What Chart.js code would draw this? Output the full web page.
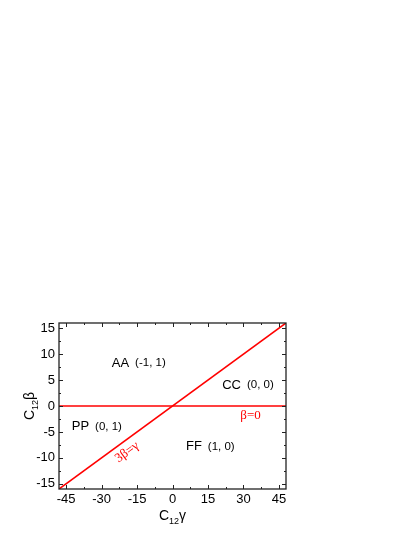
<!DOCTYPE html>
<html>
<head>
<meta charset="utf-8">
<script src="https://cdn.jsdelivr.net/npm/chart.js@4/dist/chart.umd.min.js"></script>
<style>
  html, body { margin: 0; padding: 0; background: #fff; }
  #wrap { width: 415px; height: 537px; position: relative; }
</style>
</head>
<body>
<div id="wrap"><canvas id="phaseChart"></canvas></div>
<script>
// axis ranges and ticks
const xRange = [-48, 48];
const yRange = [-16, 16];
const xTicks = [-45, -30, -15, 0, 15, 30, 45];
const yTicks = [-15, -10, -5, 0, 5, 10, 15];
const xMinor = [-37.5, -22.5, -7.5, 7.5, 22.5, 37.5];
const yMinor = [-12.5, -7.5, -2.5, 2.5, 7.5, 12.5];

// boundary lines: 3β=γ and β=0
const diagGamma = [-48, 48];
const diagBeta = [-16, 16];
const zeroGamma = [-48, 48];
const zeroBeta = [0, 0];

// region labels (left edge of text, in data coords)
const regionNames = ['AA', 'CC', 'PP', 'FF'];
const regionCodes = ['(-1, 1)', '(0, 0)', '(0, 1)', '(1, 0)'];
const regionGamma = [-25.7, 21, -42.6, 5.7];
const regionBeta = [8.3, 4.0, -4.0, -7.8];

// red line labels
const lineLabels = ['β=0', '3β=γ'];
const lineLabelGamma = [33, -19.2];
const lineLabelBeta = [-1.9, -8.9];

const RED = 'rgb(255,0,0)';
const SANS = '"Liberation Sans", Arial, Helvetica, sans-serif';
const SERIF = '"Liberation Serif", "Times New Roman", serif';

function toPoints(xs, ys) {
  return xs.map((x, i) => ({ x: x, y: ys[i] }));
}

// draws "C" + subscript "12" + greek letter, centered at (0,0)
function drawSubLabel(ctx, greek) {
  ctx.font = '14px ' + SANS;
  const wC = ctx.measureText('C').width;
  ctx.font = '9px ' + SANS;
  const w12 = ctx.measureText('12').width;
  ctx.font = '14px ' + SANS;
  const wG = ctx.measureText(greek).width;
  let x = -(wC + w12 + wG) / 2;
  ctx.textAlign = 'left';
  ctx.textBaseline = 'alphabetic';
  ctx.fillText('C', x, 5);
  x += wC;
  ctx.font = '9px ' + SANS;
  ctx.fillText('12', x, 9);
  x += w12;
  ctx.font = '14px ' + SANS;
  ctx.fillText(greek, x, 5);
}

const framePlugin = {
  id: 'frame',
  afterDatasetsDraw(chart) {
    const ctx = chart.ctx;
    const a = chart.chartArea;
    const xs = chart.scales.x;
    const ys = chart.scales.y;
    ctx.save();

    // frame
    ctx.strokeStyle = '#222';
    ctx.lineWidth = 1.3;
    ctx.strokeRect(a.left, a.top, a.right - a.left, a.bottom - a.top);

    // inward ticks on all four sides
    ctx.lineWidth = 1;
    ctx.beginPath();
    const tick = (vals, len) => {
      vals.forEach(v => {
        const px = Math.round(xs.getPixelForValue(v)) + 0.5;
        ctx.moveTo(px, a.bottom); ctx.lineTo(px, a.bottom - len);
        ctx.moveTo(px, a.top); ctx.lineTo(px, a.top + len);
      });
    };
    const tickY = (vals, len) => {
      vals.forEach(v => {
        const py = Math.round(ys.getPixelForValue(v)) + 0.5;
        ctx.moveTo(a.left, py); ctx.lineTo(a.left + len, py);
        ctx.moveTo(a.right, py); ctx.lineTo(a.right - len, py);
      });
    };
    tick(xTicks, 4); tick(xMinor, 2);
    tickY(yTicks, 4); tickY(yMinor, 2);
    ctx.stroke();

    // region labels
    ctx.fillStyle = '#000';
    ctx.textBaseline = 'middle';
    ctx.textAlign = 'left';
    regionNames.forEach((name, i) => {
      const px = xs.getPixelForValue(regionGamma[i]);
      const py = ys.getPixelForValue(regionBeta[i]);
      ctx.font = '13px ' + SANS;
      ctx.fillText(name, px, py);
      const w = ctx.measureText(name).width;
      ctx.font = '11.5px ' + SANS;
      ctx.fillText(regionCodes[i], px + w + 6, py);
    });

    // red line labels
    ctx.fillStyle = RED;
    ctx.font = '13px ' + SERIF;
    ctx.textAlign = 'center';
    ctx.fillText(lineLabels[0], xs.getPixelForValue(lineLabelGamma[0]), ys.getPixelForValue(lineLabelBeta[0]));
    ctx.save();
    ctx.translate(xs.getPixelForValue(lineLabelGamma[1]), ys.getPixelForValue(lineLabelBeta[1]));
    ctx.rotate(-Math.atan2(a.bottom - a.top, a.right - a.left));
    ctx.fillText(lineLabels[1], 0, 0);
    ctx.restore();

    // axis titles
    ctx.fillStyle = '#000';
    ctx.save();
    ctx.translate((a.left + a.right) / 2, 515);
    drawSubLabel(ctx, 'γ');
    ctx.restore();
    ctx.save();
    ctx.translate(29, (a.top + a.bottom) / 2);
    ctx.rotate(-Math.PI / 2);
    drawSubLabel(ctx, 'β');
    ctx.restore();

    ctx.restore();
  }
};

new Chart(document.getElementById('phaseChart'), {
  type: 'scatter',
  data: {
    datasets: [{
      data: toPoints(diagGamma, diagBeta),
      showLine: true,
      borderColor: RED,
      borderWidth: 1.6,
      pointRadius: 0
    }, {
      data: toPoints(zeroGamma, zeroBeta),
      showLine: true,
      borderColor: RED,
      borderWidth: 1.6,
      pointRadius: 0
    }]
  },
  options: {
    responsive: true,
    maintainAspectRatio: false,
    animation: false,
    layout: { padding: { left: 0, top: 323, right: 129, bottom: 0 } },
    plugins: {
      legend: { display: false },
      tooltip: { enabled: false }
    },
    scales: {
      x: {
        type: 'linear',
        min: xRange[0],
        max: xRange[1],
        afterBuildTicks: s => { s.ticks = xTicks.map(v => ({ value: v })); },
        afterFit: s => { s.height = 48; },
        grid: { display: false, drawTicks: false },
        border: { display: false },
        ticks: { color: '#000', padding: 3, maxRotation: 0, font: { size: 13, family: SANS } }
      },
      y: {
        type: 'linear',
        min: yRange[0],
        max: yRange[1],
        afterBuildTicks: s => { s.ticks = yTicks.map(v => ({ value: v })); },
        afterFit: s => { s.width = 59; },
        grid: { display: false, drawTicks: false },
        border: { display: false },
        ticks: { color: '#000', padding: 4, font: { size: 13, family: SANS } }
      }
    }
  },
  plugins: [framePlugin]
});
</script>
</body>
</html>
